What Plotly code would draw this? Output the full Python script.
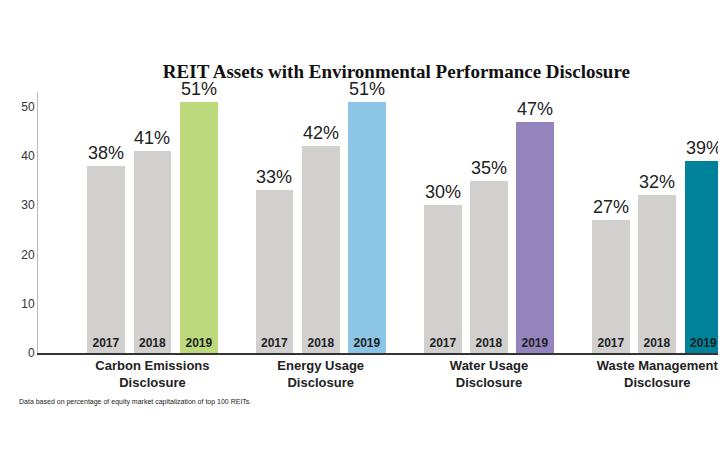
import plotly.graph_objects as go

categories = ["Carbon Emissions<br>Disclosure", "Energy Usage<br>Disclosure",
              "Water Usage<br>Disclosure", "Waste Management<br>Disclosure"]
years = ["2017", "2018", "2019"]
v2017 = [38, 33, 30, 27]
v2018 = [41, 42, 35, 32]
v2019 = [51, 51, 47, 39]
colors2019 = ["#bcd97c", "#8dc5e6", "#9484bd", "#00829b"]

series = [v2017, v2018, v2019]
colors = [["#d1d0ce"] * 4, ["#d1d0ce"] * 4, colors2019]
offsets = [-0.275, 0, 0.275]
idx = list(range(len(categories)))

fig = go.Figure()
for yr, vals, col, off in zip(years, series, colors, offsets):
    xs = [i + off for i in idx]
    fig.add_trace(go.Bar(
        x=xs, y=vals, width=0.225, marker=dict(color=col, line=dict(width=0)),
        text=[yr] * 4, textposition="inside", insidetextanchor="start",
        textfont=dict(family="Liberation Sans", size=12, color="#222"),
        texttemplate="<b>%{text}</b>", showlegend=False, hoverinfo="y"))
    for x, v in zip(xs, vals):
        fig.add_annotation(x=x, y=v, text=f"{v}%", showarrow=False, yanchor="bottom",
                           yshift=1, font=dict(family="Liberation Sans", size=18, color="#222"))

fig.add_annotation(xref="paper", yref="paper", x=-0.03, y=-0.21, xanchor="left",
                   text="Data based on percentage of equity market capitalization of top 100 REITs.",
                   showarrow=False, font=dict(family="Liberation Sans", size=7, color="#222"))

fig.update_layout(
    width=726, height=457, plot_bgcolor="white", paper_bgcolor="white",
    margin=dict(l=30, r=1, t=84, b=112),
    title=dict(text="<b>REIT Assets with Environmental Performance Disclosure</b>",
               x=0.535, xanchor="center", y=0.875,
               font=dict(family="Liberation Serif", size=19, color="#111")),
    xaxis=dict(range=[-0.68, 3.45], tickvals=idx,
               ticktext=[f"<b>{c}</b>" for c in categories], automargin=False,
               tickfont=dict(family="Liberation Sans", size=13, color="#222"),
               showline=True, linecolor="#333", linewidth=1.5, showgrid=False, zeroline=False),
    yaxis=dict(range=[0, 53], tickvals=[0, 10, 20, 30, 40, 50], showgrid=False,
               showline=True, linecolor="#bbb", zeroline=False, automargin=False,
               tickfont=dict(family="Liberation Sans", size=12, color="#333")),
    bargap=0,
)
fig.write_html("out.html")
